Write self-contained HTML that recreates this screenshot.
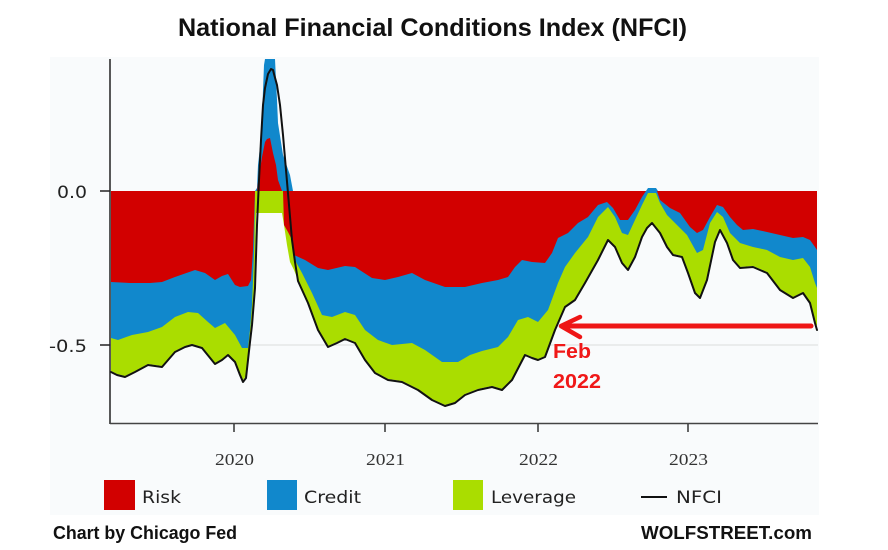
<!DOCTYPE html>
<html><head><meta charset="utf-8"><style>html,body{margin:0;padding:0;background:#fff;}svg{display:block}</style></head>
<body>
<svg width="888" height="550" viewBox="0 0 888 550" xmlns="http://www.w3.org/2000/svg">
<rect x="0" y="0" width="888" height="550" fill="#ffffff"/>
<rect x="50" y="57" width="769" height="458" fill="#f9fbfc"/>
<text x="178" y="36" font-family="Liberation Sans, sans-serif" font-weight="bold" font-size="25" fill="#111" textLength="509" lengthAdjust="spacingAndGlyphs">National Financial Conditions Index (NFCI)</text>

<line x1="110" y1="345" x2="818" y2="345" stroke="#dcdcdc" stroke-width="1"/>

<!-- green -->
<polygon fill="#aadd00" points="111,191 111,371 117,374 125,376 135,371 148,364 162,366 175,351 185,346 192,344 202,347 215,363 222,359 228,354 235,361 240,374 243,380 246,376 248,360 250,342 252,325 254,295 255,260 256,213 282,213 284,225 287,245 290,262 294,270 298,280 308,302 318,329 328,346 337,342 345,338 355,342 365,359 375,372 388,379 402,381 418,389 432,399 445,405 455,402 465,394 478,389 492,386 502,389 512,379 525,354 532,357 538,359 545,356 555,329 565,306 575,299 585,282 598,259 608,239 615,246 622,262 628,269 635,256 642,236 647,227 652,222 660,232 667,246 673,254 682,256 688,272 695,292 700,297 707,279 715,241 720,229 727,242 733,259 740,267 753,266 767,272 780,289 793,297 803,292 810,302 815,322 817,326 817,191"/>
<!-- blue -->
<polygon fill="#1188cc" points="111,191 111,338 118,340 132,335 148,332 162,327 175,317 188,312 198,313 208,322 215,328 225,323 235,335 242,348 248,348 250,330 252,305 254,255 255,191 292,191 293,255 296,262 302,273 312,293 322,315 332,317 345,312 355,315 365,330 378,340 392,345 412,343 425,350 442,362 458,362 470,355 482,351 498,347 508,337 518,320 528,317 538,322 548,310 558,283 565,267 575,253 588,237 598,217 608,207 615,217 622,233 628,235 635,220 642,205 648,193 656,193 660,203 667,215 677,225 687,235 697,253 703,250 710,223 717,212 723,217 730,233 740,243 753,247 767,250 780,257 793,260 803,258 810,267 815,283 817,288 817,191"/>
<!-- red -->
<polygon fill="#d20000" points="111,191 111,282 130,283 150,283 162,282 175,277 195,270 205,273 215,280 222,276 228,274 235,285 240,287 248,286 251,280 253,250 255,191 283,191 284,225 288,232 292,240 294,255 305,260 318,268 328,270 345,266 355,267 372,278 385,280 398,277 412,273 425,280 445,287 465,287 482,283 498,280 508,277 515,267 522,260 532,262 545,263 552,253 558,238 568,233 578,223 588,217 598,205 607,202 613,208 620,220 628,220 635,210 642,197 646,191 657,191 660,200 670,208 680,213 690,227 697,233 703,230 710,217 717,205 723,207 730,217 737,225 743,230 753,229 767,232 780,235 793,238 803,237 810,240 815,247 817,250 817,191"/>
<!-- spike positives -->
<polygon fill="#1188cc" points="255,191 257,188 258,165 260,147 262,120 263,90 264,65 265,59 275,59 276,80 277,100 278,123 283,155 290,175 293,191"/>
<polygon fill="#d20000" points="257,191 258,182 262,157 265,142 267,139 270,138 273,153 276,165 278,180 282,191"/>
<polygon fill="#1188cc" points="646,191 648,188 656,188 658,191"/>

<!-- NFCI line -->
<polyline fill="none" stroke="#111" stroke-width="2" stroke-linejoin="round" stroke-linecap="round" points="111,372 117,375 125,377 135,372 148,365 162,367 175,352 185,347 192,345 202,348 215,364 222,360 228,355 235,362 240,375 243,382 246,378 248,360 250,342 252,325 255,288 257,225 259,180 261,140 263,105 265,88 268,74 271,69 273,70 274,74 277,85 280,105 283,135 286,170 289,205 292,240 295,262 298,281 308,303 318,330 328,347 337,343 345,339 355,343 365,360 375,373 388,380 402,382 418,390 432,400 445,406 455,403 465,395 478,390 492,387 502,390 512,380 525,355 532,358 538,360 545,357 555,330 565,307 575,300 585,283 598,260 608,240 615,247 622,263 628,270 635,257 642,237 647,228 652,223 660,233 667,247 673,255 682,257 688,273 695,293 700,298 707,280 715,242 720,230 727,243 733,260 740,268 753,267 767,273 780,290 793,298 803,293 810,303 815,323 817,330"/>

<!-- axes -->
<line x1="110" y1="59" x2="110" y2="424" stroke="#222" stroke-width="1.5"/>
<line x1="110" y1="423.5" x2="818" y2="423.5" stroke="#444" stroke-width="1.5"/>
<line x1="100" y1="191" x2="110" y2="191" stroke="#222" stroke-width="1.5"/>
<line x1="100" y1="345" x2="110" y2="345" stroke="#222" stroke-width="1.5"/>
<line x1="234" y1="424" x2="234" y2="432" stroke="#333" stroke-width="1.5"/>
<line x1="385" y1="424" x2="385" y2="432" stroke="#333" stroke-width="1.5"/>
<line x1="538" y1="424" x2="538" y2="432" stroke="#333" stroke-width="1.5"/>
<line x1="688" y1="424" x2="688" y2="432" stroke="#333" stroke-width="1.5"/>

<g font-family="DejaVu Sans, sans-serif" font-size="17" fill="#222">
<text x="57" y="198" textLength="30" lengthAdjust="spacingAndGlyphs">0.0</text>
<text x="49" y="352" textLength="38" lengthAdjust="spacingAndGlyphs">-0.5</text>
</g>
<g font-family="Liberation Serif, serif" font-size="17" fill="#333">
<text x="215" y="465" textLength="39" lengthAdjust="spacingAndGlyphs">2020</text>
<text x="366" y="465" textLength="39" lengthAdjust="spacingAndGlyphs">2021</text>
<text x="519" y="465" textLength="39" lengthAdjust="spacingAndGlyphs">2022</text>
<text x="669" y="465" textLength="39" lengthAdjust="spacingAndGlyphs">2023</text>
</g>

<!-- legend -->
<rect x="104" y="480" width="31" height="30" fill="#d20000"/>
<rect x="267" y="480" width="30" height="30" fill="#1188cc"/>
<rect x="453" y="480" width="30" height="30" fill="#aadd00"/>
<line x1="641" y1="497" x2="667" y2="497" stroke="#111" stroke-width="2"/>
<g font-family="DejaVu Sans, sans-serif" font-size="17" fill="#222">
<text x="142" y="503" textLength="39" lengthAdjust="spacingAndGlyphs">Risk</text>
<text x="304" y="503" textLength="57" lengthAdjust="spacingAndGlyphs">Credit</text>
<text x="491" y="503" textLength="85" lengthAdjust="spacingAndGlyphs">Leverage</text>
<text x="676" y="503" textLength="46" lengthAdjust="spacingAndGlyphs">NFCI</text>
</g>

<g font-family="Liberation Sans, sans-serif" font-weight="bold" font-size="18" fill="#111">
<text x="53" y="539" textLength="184" lengthAdjust="spacingAndGlyphs">Chart by Chicago Fed</text>
<text x="641" y="539" textLength="171" lengthAdjust="spacingAndGlyphs">WOLFSTREET.com</text>
</g>

<!-- arrow -->
<line x1="811" y1="326" x2="563" y2="326" stroke="#ee1616" stroke-width="5" stroke-linecap="round"/>
<polyline points="580,317 561,326 580,337" fill="none" stroke="#ee1616" stroke-width="4.5" stroke-linecap="round" stroke-linejoin="round"/>
<g font-family="Liberation Sans, sans-serif" font-weight="bold" font-size="20" fill="#f01818">
<text x="553" y="358" textLength="38" lengthAdjust="spacingAndGlyphs">Feb</text>
<text x="553" y="388" textLength="48" lengthAdjust="spacingAndGlyphs">2022</text>
</g>
</svg>
</body></html>
